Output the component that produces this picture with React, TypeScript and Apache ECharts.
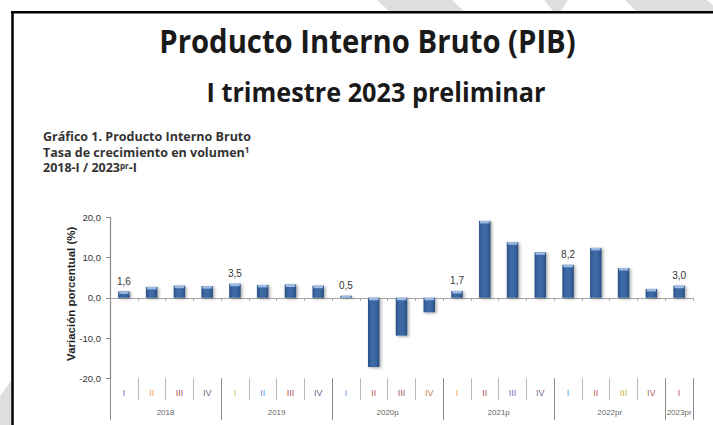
import React, { useEffect, useRef } from "react";
import * as echarts from "echarts";

// ---- data ----
const quarters = ["I", "II", "III", "IV", "I", "II", "III", "IV", "I", "II", "III", "IV", "I", "II", "III", "IV", "I", "II", "III", "IV", "I"];
const years = ["2018", "2019", "2020p", "2021p", "2022pr", "2023pr"];
const quartersPerYear = [4, 4, 4, 4, 4, 1];
const growth = [1.6, 2.7, 3.0, 2.9, 3.5, 3.2, 3.3, 3.0, 0.5, -17.2, -9.4, -3.6, 1.7, 19.1, 13.8, 11.3, 8.2, 12.4, 7.4, 2.2, 3.0];
const yMin = -20;
const yMax = 20;
const yStep = 10;

// ---- styles ----
const quarterColors = [
  "#2f45a0", "#e07f1a", "#962424", "#4a3460",
  "#c29e08", "#2a7ccc", "#962424", "#343468",
  "#2f70c8", "#a82424", "#862626", "#b06410",
  "#da8410", "#962424", "#4444aa", "#543466",
  "#2a7ccc", "#a82424", "#b89e00", "#983434",
  "#a82424",
];
const narrow = "'Liberation Sans Narrow', 'Liberation Sans', Arial, sans-serif";
const headFont = "'Open Sans', 'Noto Sans', sans-serif";

const fmt = (v: number) => v.toFixed(1).replace(".", ",");

export default function App() {
  const ref = useRef<HTMLDivElement>(null);
  useEffect(() => {
    document.body.style.margin = "0";
    const chart = echarts.init(ref.current!, null, { renderer: "svg" });

    const barGrad = new echarts.graphic.LinearGradient(0, 0, 1, 0, [
      { offset: 0, color: "#2b5285" },
      { offset: 0.35, color: "#3f6ca8" },
      { offset: 0.7, color: "#3a66a0" },
      { offset: 1, color: "#284d7e" },
    ]);

    const quarterLabels = quarters.map((q, i) => ({
      value: [i + 0.5, 0.343],
      label: { formatter: q, color: quarterColors[i], fontSize: 9 },
    }));
    let start = 0;
    const yearLabels = years.map((y, k) => {
      const c = start + quartersPerYear[k] / 2;
      start += quartersPerYear[k];
      return { value: [c, 0.826], label: { formatter: y, color: "#333", fontSize: 8 } };
    });

    const option: any = {
      animation: false,
      backgroundColor: "#ffffff",
      grid: [
        { left: 110, top: 217.3, width: 583, height: 161 },
        { left: 110, top: 378.3, width: 583, height: 22 },
        { left: 110, top: 378.3, width: 583, height: 42 },
      ],
      xAxis: [
        {
          type: "category",
          gridIndex: 0,
          data: quarters,
          axisLine: { onZero: true, lineStyle: { color: "#a6a6a6", width: 1.2 } },
          axisTick: { show: true, interval: 0, length: 3, lineStyle: { color: "#a6a6a6" } },
          axisLabel: { show: false },
          splitLine: { show: false },
        },
        {
          type: "category",
          gridIndex: 1,
          data: quarters,
          axisLine: { show: false },
          axisTick: { show: false },
          axisLabel: { show: false },
          splitLine: { show: true, interval: 0, lineStyle: { color: "#b8b8b8", width: 1 } },
        },
        {
          type: "value",
          gridIndex: 2,
          min: 0,
          max: quarters.length,
          interval: 4,
          axisLine: { show: false },
          axisTick: { show: false },
          axisLabel: { show: false },
          splitLine: { show: true, lineStyle: { color: "#8c8c8c", width: 1 } },
        },
      ],
      yAxis: [
        {
          type: "value",
          gridIndex: 0,
          min: yMin,
          max: yMax,
          interval: yStep,
          name: "Variación porcentual (%)",
          nameLocation: "middle",
          nameGap: 33,
          nameMoveOverlap: false,
          nameTextStyle: { fontFamily: narrow, fontSize: 11.5, fontWeight: "bold", color: "#1e1e1e", padding: [0, 0, 0, 8] },
          axisLine: { show: true, lineStyle: { color: "#8a8a8a", width: 1.2 } },
          axisTick: { show: true, length: 4, lineStyle: { color: "#8a8a8a" } },
          axisLabel: { formatter: (v: number) => fmt(v), fontFamily: narrow, fontSize: 9.5, color: "#333", margin: 9 },
          splitLine: { show: false },
        },
        { type: "value", gridIndex: 1, min: 0, max: 1, show: false },
        { type: "value", gridIndex: 2, min: 0, max: 1, inverse: true, show: false },
      ],
      series: [
        {
          type: "custom",
          xAxisIndex: 0,
          yAxisIndex: 0,
          data: growth.map((v, i) => [i, v]),
          encode: { x: 0, y: 1 },
          renderItem: (params: any, api: any) => {
            const i = api.value(0) as number;
            const v = api.value(1) as number;
            const p1 = api.coord([i, Math.max(v, 0)]);
            const p0 = api.coord([i, Math.min(v, 0)]);
            const w = 11.5;
            const x = p1[0] - w / 2;
            const y = p1[1];
            const h = Math.max(p0[1] - p1[1], 1.5);
            const children: any[] = [
              {
                type: "rect",
                shape: { x, y, width: w, height: h },
                style: {
                  fill: barGrad,
                  shadowBlur: 3,
                  shadowOffsetX: 1.5,
                  shadowOffsetY: 1,
                  shadowColor: "rgba(0,0,0,0.35)",
                },
              },
              {
                type: "rect",
                shape: { x: x + 1, y, width: w - 2, height: Math.min(2.5, h) },
                style: { fill: "#9dbbe4" },
              },
            ];
            if (quarters[i] === "I") {
              children.push({
                type: "text",
                x: p1[0],
                y: y - 5,
                style: {
                  text: fmt(v),
                  align: "center",
                  verticalAlign: "bottom",
                  fontFamily: narrow,
                  fontSize: 10,
                  fill: "#333",
                },
              });
            }
            return { type: "group", children };
          },
        },
        {
          type: "scatter",
          xAxisIndex: 2,
          yAxisIndex: 2,
          symbolSize: 0,
          silent: true,
          data: [...quarterLabels, ...yearLabels],
          label: {
            show: true,
            position: "inside",
            fontFamily: narrow,
            fontSize: 9,
            align: "center",
            verticalAlign: "middle",
          },
        },
      ],
      graphic: [
        { type: "polygon", z: 0, shape: { points: [[377, 0], [452, 0], [464, 11], [389, 11]] }, style: { fill: "#dedede" } },
        { type: "polygon", z: 0, shape: { points: [[544, 0], [568, 0], [561, 11], [553, 11]] }, style: { fill: "#dedede" } },
        { type: "polygon", z: 0, shape: { points: [[625, 0], [707, 0], [719, 11], [636, 11]] }, style: { fill: "#dedede" } },
        { type: "polygon", z: 0, shape: { points: [[0, 396], [11, 381], [11, 425], [0, 425]] }, style: { fill: "#dedede" } },
        { type: "line", z: 5, shape: { x1: 11, y1: 12.2, x2: 713, y2: 12.2 }, style: { stroke: "#000", lineWidth: 2.5 } },
        { type: "line", z: 5, shape: { x1: 12.5, y1: 11, x2: 12.5, y2: 425 }, style: { stroke: "#000", lineWidth: 2.5 } },
        {
          type: "text",
          x: 367.5,
          y: 40,
          scaleX: 0.915,
          style: { text: "Producto Interno Bruto (PIB)", align: "center", verticalAlign: "middle", fontFamily: headFont, fontWeight: "bold", fontSize: 32, fill: "#1a1a1a" },
        },
        {
          type: "text",
          x: 376,
          y: 92,
          scaleX: 0.935,
          style: { text: "I trimestre 2023 preliminar", align: "center", verticalAlign: "middle", fontFamily: headFont, fontWeight: "bold", fontSize: 27, fill: "#1a1a1a" },
        },
        {
          type: "text",
          x: 43,
          y: 136.5,
          style: { text: "Gráfico 1. Producto Interno Bruto", align: "left", verticalAlign: "middle", fontFamily: headFont, fontWeight: "bold", fontSize: 12.5, fill: "#333" },
        },
        {
          type: "text",
          x: 43,
          y: 152,
          style: {
            text: "Tasa de crecimiento en volumen{s|1}",
            align: "left",
            verticalAlign: "middle",
            fontFamily: headFont,
            fontWeight: "bold",
            fontSize: 12.5,
            fill: "#333",
            rich: { s: { fontFamily: headFont, fontWeight: "bold", fontSize: 8, fill: "#333", verticalAlign: "top" } },
          },
        },
        {
          type: "text",
          x: 43,
          y: 167.5,
          style: {
            text: "2018-I / 2023{s|pr}-I",
            align: "left",
            verticalAlign: "middle",
            fontFamily: headFont,
            fontWeight: "bold",
            fontSize: 12.5,
            fill: "#333",
            rich: { s: { fontFamily: headFont, fontWeight: "bold", fontSize: 8, fill: "#333", verticalAlign: "top" } },
          },
        },
      ],
    };

    chart.setOption(option);
    return () => chart.dispose();
  }, []);
  return <div ref={ref} style={{ width: 713, height: 425 }} />;
}
